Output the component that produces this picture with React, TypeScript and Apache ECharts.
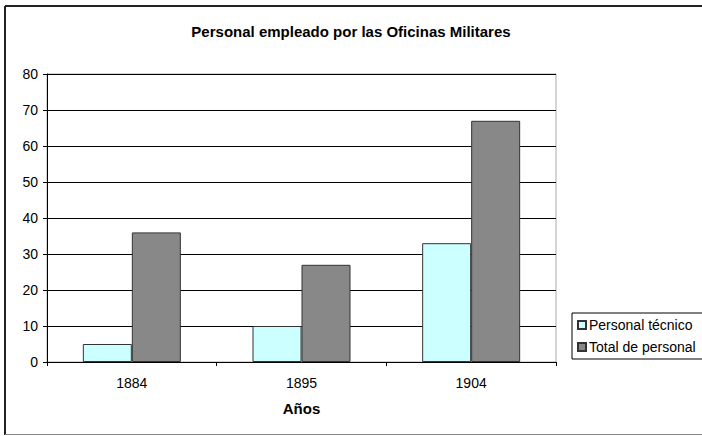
import React, { useEffect, useRef } from "react";
import * as echarts from "echarts";

const years = ["1884", "1895", "1904"];
const tecnico = [5, 10, 33];
const total = [36, 27, 67];
const seriesNames = ["Personal técnico", "Total de personal"];
const titleText = "Personal empleado por las Oficinas Militares";
const axisTitle = "Años";

const FONT = "'Liberation Sans', Arial, sans-serif";

export default function App() {
  const ref = useRef<HTMLDivElement>(null);

  useEffect(() => {
    if (!ref.current) return;
    const chart = echarts.init(ref.current, null, { renderer: "svg" });
    chart.setOption({
      animation: false,
      backgroundColor: "#ffffff",
      textStyle: { fontFamily: FONT, color: "#000" },
      title: {
        text: titleText,
        left: "center",
        top: 19,
        textStyle: { fontFamily: FONT, fontSize: 15, fontWeight: "bold", color: "#000" },
      },
      graphic: [
        { type: "line", shape: { x1: 5, y1: 6, x2: 702, y2: 6 }, style: { stroke: "#222", lineWidth: 2 } },
        { type: "line", shape: { x1: 5, y1: 6, x2: 5, y2: 435 }, style: { stroke: "#222", lineWidth: 2 } },
        { type: "line", shape: { x1: 5, y1: 434.5, x2: 702, y2: 434.5 }, style: { stroke: "#888", lineWidth: 1 } },
      ],
      legend: {
        orient: "vertical",
        left: 572,
        top: 313,
        padding: [5, 8, 5, 5],
        itemGap: 8,
        itemWidth: 8,
        itemHeight: 8,
        icon: "rect",
        borderColor: "#000",
        borderWidth: 1,
        backgroundColor: "#fff",
        textStyle: { fontFamily: FONT, fontSize: 14, color: "#000", padding: [0, 0, 0, -2] },
        data: seriesNames,
      },
      grid: {
        left: 47,
        right: 146,
        top: 74,
        bottom: 74,
        show: true,
        borderColor: "#aaa",
        borderWidth: 1,
      },
      xAxis: {
        type: "category",
        data: years,
        boundaryGap: true,
        name: axisTitle,
        nameLocation: "middle",
        nameGap: 39,
        nameTextStyle: { fontFamily: FONT, fontSize: 15, fontWeight: "bold", color: "#000" },
        axisLine: { lineStyle: { color: "#000", width: 1 } },
        axisTick: { show: true, length: 4, lineStyle: { color: "#000" } },
        axisLabel: { fontFamily: FONT, fontSize: 14, color: "#000", margin: 14 },
      },
      yAxis: {
        type: "value",
        min: 0,
        max: 80,
        interval: 10,
        axisLine: { show: true, lineStyle: { color: "#000", width: 1 } },
        axisTick: { show: true, length: 4, lineStyle: { color: "#000" } },
        axisLabel: { fontFamily: FONT, fontSize: 14, color: "#000", margin: 9 },
        splitLine: { show: true, lineStyle: { color: "#000", width: 1 } },
      },
      series: [
        {
          name: seriesNames[0],
          type: "bar",
          data: tecnico,
          barWidth: 49,
          barGap: "0%",
          itemStyle: { color: "#ccffff", borderColor: "#333", borderWidth: 1 },
        },
        {
          name: seriesNames[1],
          type: "bar",
          data: total,
          barWidth: 49,
          barGap: "0%",
          itemStyle: { color: "#888888", borderColor: "#333", borderWidth: 1 },
        },
      ],
    });
    return () => chart.dispose();
  }, []);

  return (
    <div
      ref={ref}
      style={{ position: "fixed", left: 0, top: 0, width: 702, height: 436 }}
    />
  );
}
